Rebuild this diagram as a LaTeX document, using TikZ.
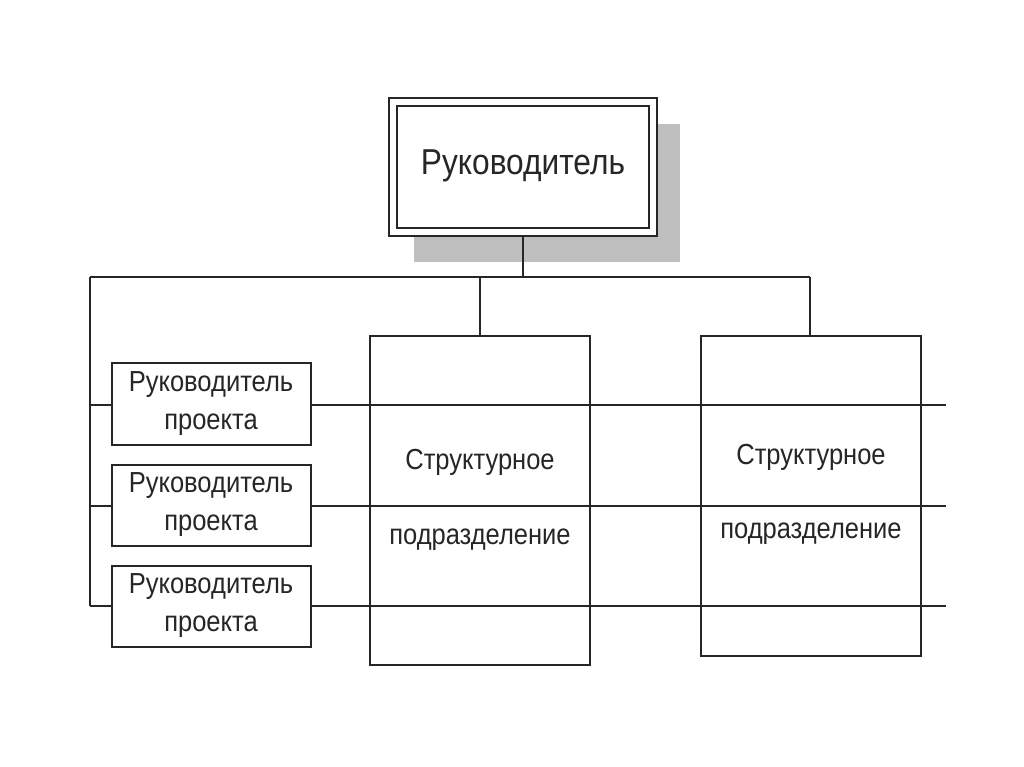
\documentclass[tikz,border=0pt]{standalone}
\usepackage{fontspec}
\setmainfont{Liberation Sans}[FakeStretch=0.88]
\begin{document}
\begin{tikzpicture}[x=1pt,y=-1pt,
 bx/.style={draw=black!85,line width=1.6pt,fill=white,inner sep=0pt},
 ln/.style={draw=black!85,line width=1.6pt},
 sm/.style={font=\fontsize{29}{38}\selectfont,align=center,text=black!85},
 st/.style={font=\fontsize{29}{34}\selectfont,text=black!85}]
\useasboundingbox (0,0) rectangle (1024,767);
\fill[black!25] (414,124) rectangle (680,262);
% lines
\draw[ln] (523,236) -- (523,277);
\draw[ln] (90,277) -- (810,277);
\draw[ln] (480,277) -- (480,336);
\draw[ln] (810,277) -- (810,336);
\draw[ln] (90,277) -- (90,606);
\draw[ln] (90,405) -- (946,405);
\draw[ln] (90,506) -- (946,506);
\draw[ln] (90,606) -- (946,606);
% top box
\draw[bx] (389,98) rectangle (657,236);
\draw[ln] (397,106) rectangle (649,228);
\node[font=\fontsize{36}{42}\selectfont,text=black!85] (top) at (523,166) {Руководитель};
% small boxes
\draw[bx] (112,363) rectangle (311,445);
\node[sm] (p1) at (211,404) {Руководитель\\проекта};
\draw[bx] (112,465) rectangle (311,546);
\node[sm] (p2) at (211,505) {Руководитель\\проекта};
\draw[bx] (112,566) rectangle (311,647);
\node[sm] (p3) at (211,606) {Руководитель\\проекта};
% big boxes
\draw[ln] (370,336) rectangle (590,665);
\node[st] (s1a) at (480,462) {Структурное};
\node[st] (s1b) at (480,540) {подразделение};
\draw[ln] (701,336) rectangle (921,656);
\node[st] (s2a) at (811,457) {Структурное};
\node[st] (s2b) at (811,534) {подразделение};
\end{tikzpicture}
\end{document}
